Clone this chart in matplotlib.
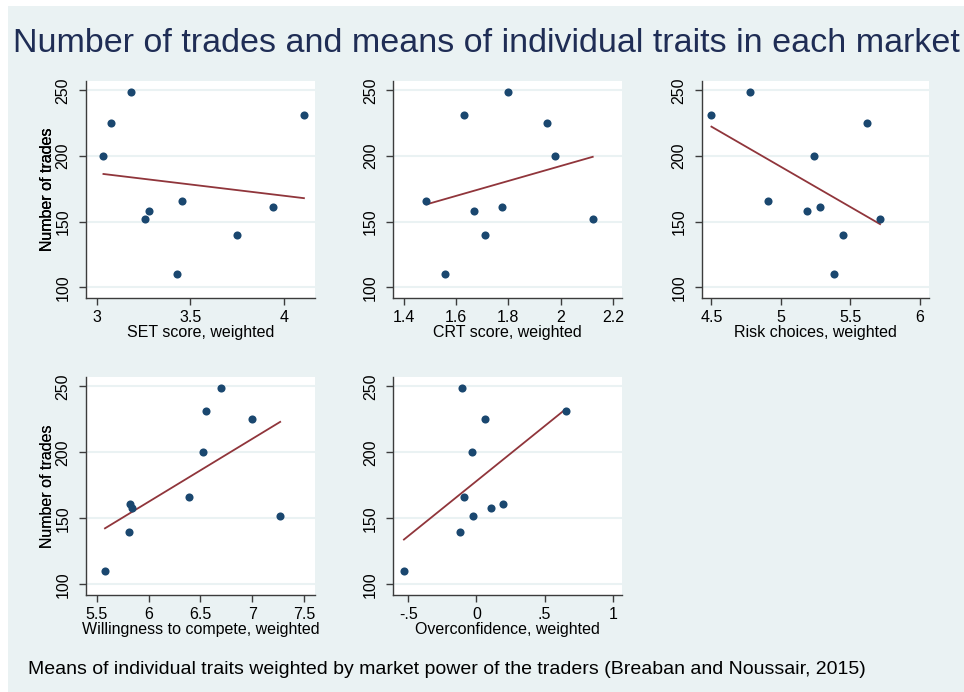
import numpy as np
import matplotlib.pyplot as plt
from matplotlib.patches import Rectangle

plt.rcParams['font.family'] = ['Liberation Sans', 'DejaVu Sans']

# one entry per market, same order in every list
trades = [249, 231, 225, 200, 166, 161, 158, 152, 140, 110]
set_score = [3.183, 4.105, 3.075, 3.036, 3.455, 3.941, 3.281, 3.256, 3.748, 3.428]
crt_score = [1.798, 1.629, 1.948, 1.980, 1.486, 1.776, 1.667, 2.123, 1.709, 1.557]
risk_choices = [4.780, 4.500, 5.619, 5.240, 4.907, 5.281, 5.190, 5.713, 5.449, 5.379]
compete = [6.700, 6.557, 7.000, 6.525, 6.393, 5.820, 5.842, 7.270, 5.811, 5.580]
overconf = [-0.104, 0.655, 0.061, -0.034, -0.088, 0.191, 0.108, -0.024, -0.124, -0.532]

y_ticks = [100, 150, 200, 250]

bg = '#eaf2f3'
navy = '#1a476f'
maroon = '#90353b'
axis_col = '#3c3c3c'

W, H = 964, 692
fig = plt.figure(figsize=(W / 100, H / 100), dpi=100, facecolor='white')
fig.patches.append(Rectangle((8 / W, 0), 1, 686 / H, transform=fig.transFigure,
                             facecolor=bg, edgecolor='none', zorder=-10))


def add_panel(x, xlabel, box, xlim, xticks, xticklabels):
    left, top, right, bottom = box
    ax = fig.add_axes([left / W, 1 - bottom / H, (right - left) / W, (bottom - top) / H])
    ax.set_facecolor('white')
    ax.scatter(x, trades, s=34, color=navy, zorder=3, linewidths=0)
    b, a = np.polyfit(x, trades, 1)
    xs = np.array([min(x), max(x)])
    ax.plot(xs, a + b * xs, color=maroon, lw=1.3, zorder=2)
    ax.set_xlim(*xlim)
    ax.set_ylim(92, 257.3)
    ax.set_xticks(xticks)
    ax.set_xticklabels(xticklabels)
    ax.set_yticks(y_ticks)
    ax.grid(axis='y', color=bg, lw=1.5)
    ax.set_axisbelow(True)
    for s in ['top', 'right']:
        ax.spines[s].set_visible(False)
    for s in ['left', 'bottom']:
        ax.spines[s].set_color(axis_col)
        ax.spines[s].set_linewidth(1.0)
    ax.tick_params(direction='out', length=5, width=1, color=axis_col,
                   labelsize=11.5, labelcolor='black')
    ax.tick_params(axis='x', pad=3.5)
    ax.tick_params(axis='y', pad=6, labelrotation=90)
    plt.setp(ax.get_yticklabels(), va='center')
    ax.set_ylabel('Number of trades', fontsize=11.5, va='center')
    ax.yaxis.set_label_coords((48 - left) / (right - left), 0.5)
    ax.set_xlabel(xlabel, fontsize=11.5, va='center')
    ax.xaxis.set_label_coords(0.5, -0.157)
    return ax


add_panel(set_score, 'SET score, weighted', (86, 80.7, 315, 298),
          (2.943, 4.164), [3, 3.5, 4], ['3', '3.5', '4'])
add_panel(crt_score, 'CRT score, weighted', (393.3, 80.7, 621.7, 298),
          (1.359, 2.234), [1.4, 1.6, 1.8, 2, 2.2], ['1.4', '1.6', '1.8', '2', '2.2'])
add_panel(risk_choices, 'Risk choices, weighted', (701.7, 80.7, 929, 298),
          (4.43, 6.065), [4.5, 5, 5.5, 6], ['4.5', '5', '5.5', '6'])
add_panel(compete, 'Willingness to compete, weighted', (86, 376.7, 315, 595),
          (5.397, 7.606), [5.5, 6, 6.5, 7, 7.5], ['5.5', '6', '6.5', '7', '7.5'])
add_panel(overconf, 'Overconfidence, weighted', (393.3, 376.7, 621.7, 595),
          (-0.61, 1.065), [-0.5, 0, 0.5, 1], ['-.5', '0', '.5', '1'])

fig.text(13 / W, 1 - 52 / H, 'Number of trades and means of individual traits in each market',
         fontsize=24.5, color='#1f2d55', ha='left', va='baseline')
fig.text(28 / W, 1 - 674 / H,
         'Means of individual traits weighted by market power of the traders (Breaban and Noussair, 2015)',
         fontsize=14, color='black', ha='left', va='baseline')

fig.savefig('out.png', dpi=100, facecolor=fig.get_facecolor())
